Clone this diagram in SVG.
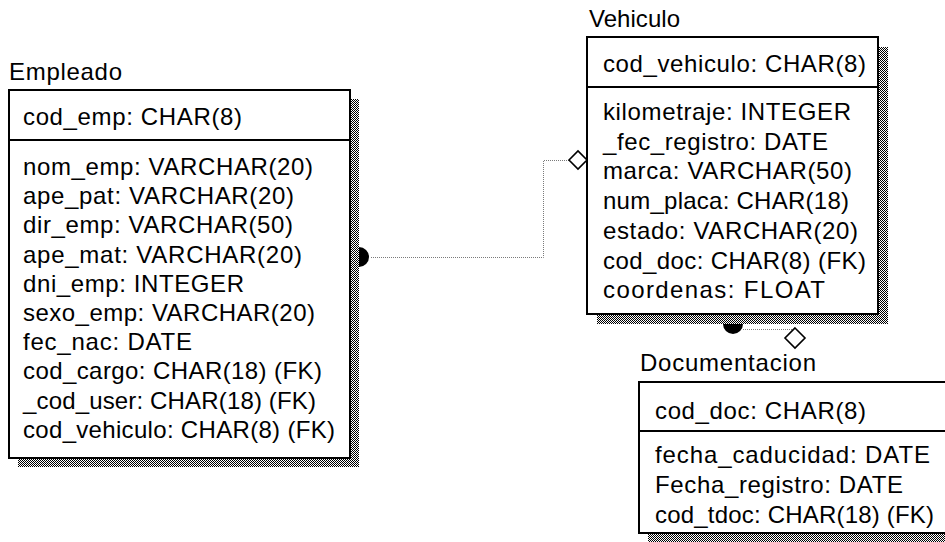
<svg xmlns="http://www.w3.org/2000/svg" width="945" height="542" viewBox="0 0 945 542">
  <defs>
    <pattern id="dither" width="2" height="2" patternUnits="userSpaceOnUse">
      <rect width="2" height="2" fill="#ffffff"/>
      <rect x="0" y="0" width="1" height="1" fill="#000000"/>
      <rect x="1" y="1" width="1" height="1" fill="#000000"/>
    </pattern>
    <style>
      text { font-family: "Liberation Sans", Arial, sans-serif; font-size: 24px; fill: #000; }
      .shadow { fill: url(#dither); stroke: none; }
      .box { fill: #ffffff; stroke: #000; stroke-width: 2; }
      .div { stroke: #000; stroke-width: 2; fill: none; }
      .conn { fill: none; stroke: #7a7a7a; stroke-width: 1; stroke-dasharray: 1 1; }
      .dot { fill: #000; stroke: none; }
      .dia { fill: #fff; stroke: #000; stroke-width: 1.6; }
    </style>
  </defs>
  <rect width="945" height="542" fill="#ffffff"/>

  <g id="Empleado">
    <text x="9" y="80" textLength="113" lengthAdjust="spacing">Empleado</text>
    <rect class="shadow" x="18" y="99" width="341" height="368"/>
    <rect class="box" x="9" y="90" width="341" height="368"/>
    <line class="div" x1="9" y1="140" x2="350" y2="140"/>
    <text x="23" y="125" textLength="219" lengthAdjust="spacing">cod_emp: CHAR(8)</text>
    <text x="23" y="175" textLength="290" lengthAdjust="spacing">nom_emp: VARCHAR(20)</text>
    <text x="23" y="204.2" textLength="271" lengthAdjust="spacing">ape_pat: VARCHAR(20)</text>
    <text x="23" y="233.4" textLength="270" lengthAdjust="spacing">dir_emp: VARCHAR(50)</text>
    <text x="23" y="262.6" textLength="279" lengthAdjust="spacing">ape_mat: VARCHAR(20)</text>
    <text x="23" y="291.8" textLength="221" lengthAdjust="spacing">dni_emp: INTEGER</text>
    <text x="23" y="321" textLength="292" lengthAdjust="spacing">sexo_emp: VARCHAR(20)</text>
    <text x="23" y="350.2" textLength="169" lengthAdjust="spacing">fec_nac: DATE</text>
    <text x="23" y="379.4" textLength="299" lengthAdjust="spacing">cod_cargo: CHAR(18) (FK)</text>
    <text x="23" y="408.6" textLength="293" lengthAdjust="spacing">_cod_user: CHAR(18) (FK)</text>
    <text x="23" y="437.8" textLength="312" lengthAdjust="spacing">cod_vehiculo: CHAR(8) (FK)</text>
  </g>

  <g id="Vehiculo">
    <text x="589" y="27" textLength="91" lengthAdjust="spacing">Vehiculo</text>
    <rect class="shadow" x="597" y="47" width="291" height="277"/>
    <rect class="box" x="587" y="37" width="291" height="277"/>
    <line class="div" x1="587" y1="87" x2="878" y2="87"/>
    <text x="603" y="72" textLength="263" lengthAdjust="spacing">cod_vehiculo: CHAR(8)</text>
    <text x="603" y="120" textLength="248" lengthAdjust="spacing">kilometraje: INTEGER</text>
    <text x="603" y="149.7" textLength="225" lengthAdjust="spacing">_fec_registro: DATE</text>
    <text x="603" y="179.4" textLength="249" lengthAdjust="spacing">marca: VARCHAR(50)</text>
    <text x="603" y="209.1" textLength="246" lengthAdjust="spacing">num_placa: CHAR(18)</text>
    <text x="603" y="238.8" textLength="255" lengthAdjust="spacing">estado: VARCHAR(20)</text>
    <text x="603" y="268.5" textLength="263" lengthAdjust="spacing">cod_doc: CHAR(8) (FK)</text>
    <text x="603" y="298.2" textLength="222" lengthAdjust="spacing">coordenas: FLOAT</text>
  </g>

  <g id="Documentacion">
    <text x="640" y="371" textLength="176" lengthAdjust="spacing">Documentacion</text>
    <rect class="shadow" x="648" y="391" width="310" height="151"/>
    <rect class="box" x="639" y="382" width="310" height="151"/>
    <line class="div" x1="639" y1="431" x2="949" y2="431"/>
    <text x="655" y="419" textLength="211" lengthAdjust="spacing">cod_doc: CHAR(8)</text>
    <text x="655" y="463" textLength="275" lengthAdjust="spacing">fecha_caducidad: DATE</text>
    <text x="655" y="493" textLength="248" lengthAdjust="spacing">Fecha_registro: DATE</text>
    <text x="655" y="523" textLength="279" lengthAdjust="spacing">cod_tdoc: CHAR(18) (FK)</text>
  </g>

  <g id="connectors">
    <path class="conn" d="M371,257.5 H543.5 V160.5 H569"/>
    <path class="dot" d="M359,247 A10,10 0 0 1 359,267 Z"/>
    <polygon class="dia" points="569,160 578,151 587,160 578,169"/>
    <path class="conn" d="M743,329.5 H795"/>
    <path class="dot" d="M723,324 A10,10 0 0 0 743,324 Z"/>
    <polygon class="dia" points="795,328 805,338 795,348 785,338"/>
  </g>
</svg>
